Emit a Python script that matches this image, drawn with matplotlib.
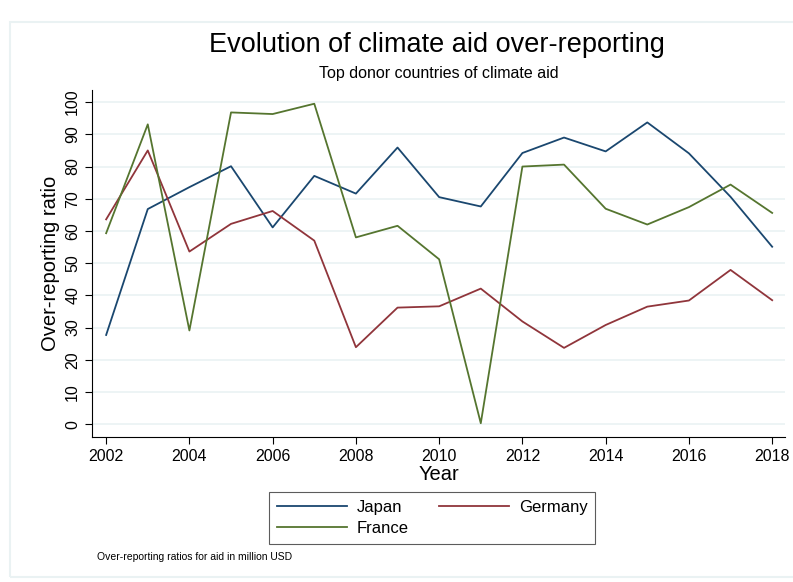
import matplotlib.pyplot as plt
from matplotlib.patches import Rectangle

plt.rcParams['font.family'] = ['Liberation Sans', 'DejaVu Sans']

years = list(range(2002, 2019))
japan = [27.7, 66.8, 73.6, 80.1, 61.1, 77.1, 71.6, 85.9, 70.5, 67.6,
         84.2, 89.0, 84.7, 93.7, 84.1, 70.6, 55.1]
germany = [63.6, 85.0, 53.6, 62.2, 66.2, 57.0, 23.9, 36.2, 36.6, 42.1,
           31.9, 23.7, 30.8, 36.5, 38.4, 47.9, 38.5]
france = [59.3, 93.1, 29.1, 96.8, 96.3, 99.5, 58.0, 61.6, 51.2, 0.3,
          80.0, 80.6, 66.9, 62.0, 67.4, 74.4, 65.6]

fig = plt.figure(figsize=(7.93, 5.82), dpi=100)
fig.patch.set_facecolor('white')
# faint outer frame like the Stata graph region (right edge is cut off)
fig.add_artist(Rectangle((0.012, 0.008), 1.1, 0.955, transform=fig.transFigure,
                         fill=False, edgecolor='#eaf2f3', lw=1.5))

ax = fig.add_axes([0.116, 0.249, 0.874, 0.596])

l_jp, = ax.plot(years, japan, color='#1a476f', lw=1.3, label='Japan')
l_de, = ax.plot(years, germany, color='#90353b', lw=1.3, label='Germany')
l_fr, = ax.plot(years, france, color='#55752f', lw=1.3, label='France')

ax.set_xlim(2001.66, 2018.31)
ax.set_ylim(-4.0, 103.7)
ax.set_xticks(range(2002, 2019, 2))
ax.set_yticks(range(0, 101, 10))
ax.tick_params(axis='y', labelrotation=90, labelsize=11.5, length=5, width=0.8)
ax.tick_params(axis='x', labelsize=11.5, length=5, width=0.8)
for lbl in ax.get_yticklabels():
    lbl.set_va('center')

ax.grid(axis='y', color='#eaf2f3', lw=1.2)
ax.set_axisbelow(True)
for s in ['top', 'right']:
    ax.spines[s].set_visible(False)
ax.spines['left'].set_linewidth(0.8)
ax.spines['bottom'].set_linewidth(0.8)

ax.set_xlabel('Year', fontsize=14.5, labelpad=1)
ax.set_ylabel('Over-reporting ratio', fontsize=14.5, labelpad=4)

fig.text(0.551, 0.922, 'Evolution of climate aid over-reporting', ha='center', va='center', fontsize=19.5)
fig.text(0.553, 0.873, 'Top donor countries of climate aid', ha='center', va='center', fontsize=11.5)

# column-major order so Japan/Germany sit on the first row
leg = fig.legend([l_jp, l_fr, l_de], ['Japan', 'France', 'Germany'],
                 loc='center', bbox_to_anchor=(0.545, 0.110), ncol=2, fontsize=12,
                 frameon=True, fancybox=False, edgecolor='#333333', handlelength=4.2,
                 handletextpad=0.6, columnspacing=1.8, borderpad=0.45, labelspacing=0.4)
leg.get_frame().set_linewidth(0.8)

fig.text(0.122, 0.043, 'Over-reporting ratios for aid in million USD', ha='left', va='center', fontsize=7.5)

fig.savefig('out.png', dpi=100)
